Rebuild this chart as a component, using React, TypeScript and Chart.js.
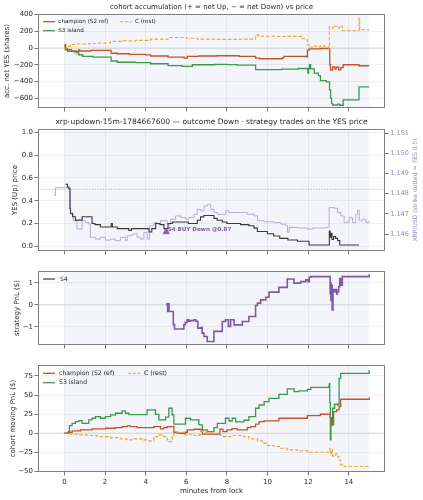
import React, { useEffect, useRef } from "react";
import { Chart, registerables } from "chart.js";

Chart.register(...registerables);

type Pt = [number, number];

// ---------------- data ----------------
const X_MIN = -1.3;
const X_MAX = 15.78;
const X_TICKS = [0, 2, 4, 6, 8, 10, 12, 14];
const SHADE_FROM = 0;
const SHADE_TO = 15;

// panel 1: cohort accumulation (net YES shares)
const ACC_TICKS = [400, 200, 0, -200, -400, -600];
const ACC_CHAMPION: Pt[] = [[0,0],[0.03,40],[0.06,-5],[0.15,-20],[0.35,-35],[0.6,-40],[0.7,-22],[0.75,-35],[1.3,-28],[2.3,-62],[2.6,-68],[3.2,-75],[4.0,-82],[4.24,-95],[5.1,-108],[5.9,-120],[6.05,-100],[6.6,-95],[7.5,-92],[8.6,-100],[9.41,-120],[9.6,-128],[10.73,-118],[10.8,-100],[11.9,-105],[11.96,-25],[12.05,-10],[12.6,-5],[13.03,-8],[13.06,-200],[13.1,-265],[13.2,-225],[13.3,-250],[13.38,-230],[13.5,-262],[13.6,-235],[13.72,-200],[14.5,-212],[15.0,-212]];
const ACC_S3: Pt[] = [[0,0],[0.05,-20],[0.15,-40],[0.45,-45],[0.6,-58],[0.7,-80],[0.9,-100],[1.4,-108],[2.3,-155],[2.6,-170],[3.5,-175],[4.24,-188],[5.1,-210],[5.8,-220],[6.3,-200],[7.4,-195],[8.0,-198],[8.5,-205],[9.41,-258],[10.7,-252],[11.5,-245],[11.98,-300],[12.02,-245],[12.06,-200],[12.12,-250],[12.3,-300],[12.5,-330],[12.6,-390],[12.9,-405],[13.05,-500],[13.1,-600],[13.15,-665],[13.2,-682],[13.45,-672],[13.55,-685],[13.72,-620],[14.5,-465],[15.0,-465]];
const ACC_C_REST: Pt[] = [[0,0],[0.1,20],[0.3,42],[0.5,48],[1.2,55],[1.7,60],[2.27,80],[2.9,86],[3.5,92],[4.24,107],[5.1,127],[6.0,118],[6.55,107],[7.5,104],[8.5,107],[9.41,158],[9.55,142],[10.5,138],[11.0,140],[11.71,112],[11.9,100],[11.96,40],[12.05,10],[12.2,25],[12.4,15],[12.6,28],[12.8,18],[13.0,-2],[13.04,255],[13.2,238],[13.3,262],[13.45,242],[13.55,268],[13.68,207],[14.5,360],[14.53,220],[15.0,220]];

// panel 2: YES price & XRP/USD
const YES_TICKS = [0, 0.2, 0.4, 0.6, 0.8, 1.0];
const XRP_TICKS = [1.146, 1.147, 1.148, 1.149, 1.15, 1.151];
const STRIKE_YES = 0.5;
const YES_PRICE: Pt[] = [[0.05,0.545],[0.15,0.52],[0.22,0.51],[0.27,0.33],[0.3,0.29],[0.4,0.26],[0.54,0.23],[0.87,0.26],[1.36,0.2],[1.5,0.19],[1.77,0.17],[2.3,0.2],[2.36,0.17],[2.6,0.155],[3.17,0.14],[3.3,0.155],[4.16,0.126],[4.3,0.155],[4.49,0.2],[4.7,0.19],[4.9,0.155],[5.1,0.2],[5.31,0.214],[6.1,0.2],[6.54,0.229],[6.7,0.258],[6.86,0.27],[7.36,0.245],[7.52,0.229],[7.77,0.214],[8.0,0.2],[8.67,0.19],[9.08,0.18],[9.33,0.16],[9.5,0.13],[9.99,0.11],[10.3,0.09],[10.6,0.07],[11.0,0.055],[11.47,0.045],[12.04,0.012],[13.02,0.012],[13.04,0.135],[13.08,0.08],[13.12,0.115],[13.17,0.06],[13.25,0.085],[13.35,0.07],[13.45,0.05],[13.55,0.012],[14.5,0.012]];
const XRP_PRICE: Pt[] = [[-0.53,1.14792],[-0.44,1.1483],[0.13,1.1483],[0.21,1.14821],[0.3,1.14698],[0.43,1.14666],[0.62,1.14625],[0.87,1.14666],[1.04,1.14657],[1.2,1.14649],[1.28,1.14584],[1.53,1.14575],[1.77,1.14584],[2.02,1.1457],[2.27,1.14575],[2.51,1.14567],[2.76,1.14584],[3.01,1.14567],[3.09,1.14592],[3.34,1.146],[3.58,1.14584],[3.75,1.14575],[3.91,1.14608],[4.07,1.14575],[4.19,1.14641],[4.4,1.14657],[4.57,1.14649],[4.73,1.14666],[5.06,1.14649],[5.23,1.14674],[5.47,1.1469],[5.72,1.14682],[5.96,1.14674],[6.13,1.14682],[6.38,1.14698],[6.54,1.14723],[6.7,1.14715],[6.87,1.14739],[7.03,1.14748],[7.2,1.14723],[7.36,1.14707],[7.53,1.14698],[7.77,1.14698],[7.94,1.14715],[8.1,1.14707],[8.84,1.14707],[9.0,1.14698],[9.33,1.1469],[9.5,1.14666],[9.83,1.14661],[10.32,1.14657],[10.65,1.14649],[10.89,1.14641],[10.98,1.14608],[11.06,1.14633],[11.47,1.1463],[11.96,1.14625],[12.21,1.1463],[12.87,1.14633],[13.03,1.14731],[13.28,1.14728],[13.44,1.14707],[13.6,1.1469],[13.77,1.14657],[13.93,1.14661],[14.02,1.14682],[14.18,1.14657],[14.34,1.14698],[14.43,1.14718],[14.51,1.14666],[14.67,1.14674],[14.84,1.14657],[15.0,1.14666]];
const TRADE_X = 5.01;
const TRADE_YES = 0.126;
const TRADE_TEXT = "S4 BUY Down @0.87";

// panel 3: strategy PnL
const S4_TICKS = [1, 0, -1];
const S4_PNL: Pt[] = [[5.03,0.0],[5.05,0.05],[5.08,-0.3],[5.12,0.05],[5.15,-0.3],[5.36,-0.9],[5.42,-1.1],[5.88,-0.9],[5.95,-0.8],[6.04,-0.68],[6.12,-0.75],[6.2,-0.72],[6.37,-0.68],[6.47,-0.75],[6.57,-1.06],[6.7,-1.03],[6.78,-1.29],[6.87,-1.44],[7.03,-1.67],[7.36,-1.21],[7.77,-0.76],[7.93,-0.68],[8.07,-0.98],[8.18,-0.68],[8.35,-0.91],[8.76,-0.76],[9.08,-0.53],[9.41,-0.03],[9.5,0.08],[9.66,0.23],[9.91,0.35],[10.07,0.58],[10.56,0.8],[10.97,1.18],[11.3,0.99],[11.63,1.06],[11.88,1.14],[12.0,1.06],[12.05,1.26],[12.13,1.29],[13.05,1.29],[13.08,0.5],[13.1,1.0],[13.12,0.2],[13.15,0.9],[13.18,-0.23],[13.22,0.7],[13.3,0.6],[13.35,0.7],[13.4,0.5],[13.44,0.61],[13.5,0.83],[13.55,1.2],[13.6,0.9],[13.68,1.29],[14.98,1.29],[15.0,1.4]];

// panel 4: cohort moving PnL
const PNL_TICKS = [75, 50, 25, 0, -25, -50];
const PNL_CHAMPION: Pt[] = [[0,0],[0.2,1.3],[0.38,3],[0.79,4.4],[1.36,5.7],[2.02,6.5],[2.51,7.4],[2.84,8.7],[3.09,9.6],[3.25,8.7],[3.58,7.4],[4.4,8.7],[4.73,5.7],[4.9,7.4],[5.06,8.7],[5.39,1.3],[5.55,0],[5.96,1.3],[6.05,4.4],[6.38,5.2],[6.7,4.4],[6.79,-1.3],[7.6,-1.3],[7.65,5.5],[7.8,2.2],[8.0,4.4],[8.25,6],[8.51,4.4],[9.0,7.4],[9.17,8.7],[9.41,11.8],[9.58,15.3],[9.83,16.1],[10.56,19.6],[11.96,23],[12.6,24.9],[13.03,24.9],[13.08,20.5],[13.15,10.9],[13.25,28.4],[13.4,30.5],[13.52,34.9],[13.6,44.5],[14.97,44.5],[15.0,46.7]];
const PNL_S3: Pt[] = [[0,0],[0.2,2],[0.25,10],[0.38,13],[0.54,15.3],[0.71,16.6],[0.87,13],[1.2,17.5],[1.36,19.6],[1.53,21.8],[1.77,19.6],[2.02,21.8],[2.27,24],[2.51,26.2],[2.84,29.2],[3.01,26.2],[3.17,24.5],[4.07,30.5],[4.48,24.8],[4.65,17.4],[4.98,21],[5.14,32.7],[5.3,24],[5.39,11.8],[5.96,19.6],[6.21,17.4],[6.62,10.9],[6.79,4.4],[7.03,2.2],[7.36,7.4],[7.53,13],[7.93,19.6],[8.1,16],[8.26,19.6],[8.43,15],[8.84,17],[9.08,21.8],[9.41,32.7],[9.58,37],[9.83,41.4],[10.07,45.8],[10.56,51],[10.97,58],[11.3,54.5],[11.55,55.5],[11.96,57.5],[12.13,60.2],[13.02,62],[13.04,65],[13.06,40],[13.09,-8.7],[13.12,10.9],[13.2,32.7],[13.3,38],[13.45,37],[13.52,72],[13.6,78.5],[14.97,78.5],[15.0,83]];
const PNL_C_REST: Pt[] = [[0,0],[0.3,-1.3],[0.62,-2.2],[1.12,-3],[1.61,-4.4],[2.27,-5.7],[2.76,-7.4],[3.09,-8.7],[3.42,-7.4],[3.91,-8.7],[4.16,-10],[4.4,-4.4],[4.65,-2.2],[4.9,-4.4],[5.06,-8.7],[5.14,-11],[5.31,-4.4],[5.39,0],[5.55,1.3],[5.88,-2.2],[6.13,-1.3],[6.38,-3],[6.62,-2.2],[6.7,2.2],[6.95,1.3],[7.28,0],[7.66,-3],[7.83,-4.4],[8.18,-3],[8.84,-4.4],[9.08,-7.4],[9.5,-10],[9.74,-13],[9.99,-16],[10.32,-17.4],[10.65,-19.6],[10.97,-21.8],[11.47,-23],[11.96,-24.9],[13.03,-24.9],[13.06,-19.6],[13.1,-28],[13.15,-21],[13.2,-30],[13.35,-27],[13.45,-31],[13.52,-35],[13.6,-41.4],[13.77,-43.6],[14.97,-43.6],[15.0,-45]];

// ---------------- styles ----------------
const FONT = "DejaVu Sans";
const TEXT = "#262626";
const GRID = "rgba(0,0,0,0.07)";
const TICK = "#555555";
const FRAME = "#808080";
const SHADE = "#f3f5fa";
const C_CHAMP = "#c4532d";
const C_S3 = "#3d9a4b";
const C_REST = "#e6ab2a";
const C_S4 = "#7e59a8";
const C_XRP = "#bbaad8";
const C_YES = "#3a3a3a";
const C_RIGHT = "#9a84c4";

const fmtSigned = (v: number) => (v < 0 ? "\u2212" + Math.abs(v) : String(v));

function toXY(p: Pt[]) {
  return p.map(([x, y]) => ({ x, y }));
}

function lineDs(label: string, pts: Pt[], color: string, width: number, dash: number[] = [], yAxisID = "y") {
  return {
    label,
    data: toXY(pts),
    borderColor: color,
    backgroundColor: color,
    borderWidth: width,
    borderDash: dash,
    pointRadius: 0,
    pointHoverRadius: 0,
    stepped: true,
    fill: false,
    tension: 0,
    yAxisID,
  };
}

function xScale(showLabels: boolean, height: number) {
  return {
    type: "linear",
    min: X_MIN,
    max: X_MAX,
    afterBuildTicks: (s: any) => {
      s.ticks = X_TICKS.map((v) => ({ value: v }));
    },
    afterFit: (s: any) => {
      s.height = height;
    },
    ticks: {
      display: showLabels,
      font: { family: FONT, size: 7 },
      color: TEXT,
      padding: 2.5,
      maxRotation: 0,
      autoSkip: false,
      callback: (v: any) => String(v),
    },
    grid: { color: GRID, lineWidth: 0.8, tickColor: TICK, tickLength: 3.5, tickWidth: 0.8 },
    border: { display: false },
  };
}

function yScale(min: number, max: number, ticks: number[], fmt: (v: number) => string, extra: any = {}) {
  return {
    type: "linear",
    position: "left",
    min,
    max,
    afterBuildTicks: (s: any) => {
      s.ticks = ticks.map((v) => ({ value: v }));
    },
    afterFit: (s: any) => {
      s.width = 38;
    },
    ticks: {
      font: { family: FONT, size: 7 },
      color: TEXT,
      padding: 1.5,
      autoSkip: false,
      callback: (v: any) => fmt(Number(v)),
    },
    grid: { color: GRID, lineWidth: 0.8, tickColor: TICK, tickLength: 3.5, tickWidth: 0.8 },
    border: { display: false },
    ...extra,
  };
}

type LegendItem = { label: string; color: string; dash: number[]; width: number; x0: number; x1: number; tx: number; dy: number };

type DecorCfg = {
  title?: { text: string; y: number; size: number };
  yLabel: { text: string; x: number; size: number };
  yLabelRight?: { text: string; x: number; size: number; color: string };
  xLabel?: { text: string; y: number; size: number };
  hlines?: { value: number; scale: string; color: string; dash: number[]; width: number }[];
  legend?: { items: LegendItem[]; size: number };
  note?: { text: string; x: number; y: number; color: string; size: number };
};

function decorPlugin(d: DecorCfg) {
  return {
    id: "decor",
    beforeDraw(chart: any) {
      const { ctx, chartArea: a, scales } = chart;
      const xs = scales.x;
      const l = Math.max(a.left, xs.getPixelForValue(SHADE_FROM));
      const r = Math.min(a.right, xs.getPixelForValue(SHADE_TO));
      ctx.save();
      ctx.fillStyle = SHADE;
      ctx.fillRect(l, a.top, r - l, a.bottom - a.top);
      ctx.restore();
    },
    beforeDatasetsDraw(chart: any) {
      const { ctx, chartArea: a, scales } = chart;
      (d.hlines || []).forEach((h) => {
        const y = scales[h.scale].getPixelForValue(h.value);
        ctx.save();
        ctx.strokeStyle = h.color;
        ctx.lineWidth = h.width;
        ctx.setLineDash(h.dash);
        ctx.beginPath();
        ctx.moveTo(a.left, y);
        ctx.lineTo(a.right, y);
        ctx.stroke();
        ctx.restore();
      });
    },
    afterDraw(chart: any) {
      const { ctx, chartArea: a, scales } = chart;
      ctx.save();
      // frame
      ctx.strokeStyle = FRAME;
      ctx.lineWidth = 1;
      ctx.strokeRect(Math.round(a.left) + 0.5, Math.round(a.top) + 0.5, Math.round(a.right - a.left) - 1, Math.round(a.bottom - a.top) - 1);
      const cx = (a.left + a.right) / 2;
      const cy = (a.top + a.bottom) / 2;
      ctx.fillStyle = TEXT;
      if (d.title) {
        ctx.font = `${d.title.size}px "${FONT}"`;
        ctx.textAlign = "center";
        ctx.textBaseline = "middle";
        ctx.fillText(d.title.text, cx, d.title.y);
      }
      if (d.xLabel) {
        ctx.font = `${d.xLabel.size}px "${FONT}"`;
        ctx.textAlign = "center";
        ctx.textBaseline = "middle";
        ctx.fillText(d.xLabel.text, cx, d.xLabel.y);
      }
      const vLabel = (text: string, x: number, size: number, color: string) => {
        ctx.save();
        ctx.translate(x, cy);
        ctx.rotate(-Math.PI / 2);
        ctx.font = `${size}px "${FONT}"`;
        ctx.fillStyle = color;
        ctx.textAlign = "center";
        ctx.textBaseline = "middle";
        ctx.fillText(text, 0, 0);
        ctx.restore();
      };
      vLabel(d.yLabel.text, d.yLabel.x, d.yLabel.size, TEXT);
      if (d.yLabelRight) vLabel(d.yLabelRight.text, d.yLabelRight.x, d.yLabelRight.size, d.yLabelRight.color);
      if (d.legend) {
        d.legend.items.forEach((it) => {
          const y = a.top + it.dy;
          ctx.save();
          ctx.strokeStyle = it.color;
          ctx.lineWidth = it.width;
          ctx.setLineDash(it.dash);
          ctx.beginPath();
          ctx.moveTo(a.left + it.x0, y);
          ctx.lineTo(a.left + it.x1, y);
          ctx.stroke();
          ctx.restore();
          ctx.font = `${d.legend!.size}px "${FONT}"`;
          ctx.fillStyle = TEXT;
          ctx.textAlign = "left";
          ctx.textBaseline = "middle";
          ctx.fillText(it.label, a.left + it.tx, y);
        });
      }
      if (d.note) {
        const px = scales.x.getPixelForValue(d.note.x);
        const py = scales.y.getPixelForValue(d.note.y);
        ctx.font = `bold ${d.note.size}px "${FONT}"`;
        ctx.fillStyle = d.note.color;
        ctx.textAlign = "left";
        ctx.textBaseline = "alphabetic";
        ctx.fillText(d.note.text, px + 1.5, py - 1);
      }
      ctx.restore();
    },
  };
}

function baseOptions(padTop: number, scales: any) {
  return {
    responsive: false,
    maintainAspectRatio: false,
    animation: false,
    devicePixelRatio: 1,
    events: [],
    layout: { padding: { top: padTop, left: 0, right: 38, bottom: 0 } },
    plugins: { legend: { display: false }, tooltip: { enabled: false }, title: { display: false } },
    scales,
  };
}

function cfgAccumulation() {
  return {
    type: "line",
    data: {
      datasets: [
        lineDs("C (rest)", ACC_C_REST, C_REST, 1.1, [3.5, 2]),
        lineDs("S3 island", ACC_S3, C_S3, 1.3),
        lineDs("champion (S2 ref)", ACC_CHAMPION, C_CHAMP, 1.3),
      ],
    },
    options: baseOptions(14, {
      x: xScale(false, 8),
      y: yScale(-718, 408, ACC_TICKS, fmtSigned),
    }),
    plugins: [
      decorPlugin({
        title: { text: "cohort accumulation (+ = net Up, \u2212 = net Down) vs price", y: 6.7, size: 7 },
        yLabel: { text: "acc. net YES (shares)", x: 6.7, size: 7 },
        hlines: [{ value: 0, scale: "y", color: "#cfcfcf", dash: [], width: 0.8 }],
        legend: {
          size: 5.6,
          items: [
            { label: "champion (S2 ref)", color: C_CHAMP, dash: [], width: 1.3, x0: 5, x1: 17, tx: 20.3, dy: 7.7 },
            { label: "S3 island", color: C_S3, dash: [], width: 1.3, x0: 5, x1: 17, tx: 20.3, dy: 16.7 },
            { label: "C (rest)", color: C_REST, dash: [3, 1.8], width: 1.1, x0: 82, x1: 93.7, tx: 97, dy: 7.7 },
          ],
        },
      }),
    ],
  };
}

function cfgPrice() {
  return {
    type: "line",
    data: {
      datasets: [
        {
          label: "trade",
          data: [{ x: TRADE_X, y: TRADE_YES }],
          showLine: false,
          pointStyle: "triangle",
          pointRadius: 3.8,
          pointBackgroundColor: C_S4,
          pointBorderColor: C_S4,
          pointBorderWidth: 0.5,
          yAxisID: "y",
        },
        lineDs("YES", YES_PRICE, C_YES, 1.1),
        lineDs("XRP/USD", XRP_PRICE, C_XRP, 1.0, [], "y1"),
      ],
    },
    options: {
      ...baseOptions(13, {
        x: xScale(false, 8),
        y: yScale(-0.041, 1.029, YES_TICKS, (v) => v.toFixed(1)),
        y1: {
          type: "linear",
          position: "right",
          min: 1.14516,
          max: 1.15121,
          afterBuildTicks: (s: any) => {
            s.ticks = XRP_TICKS.map((v) => ({ value: v }));
          },
          afterFit: (s: any) => {
            s.width = 38;
          },
          ticks: {
            font: { family: FONT, size: 6.4 },
            color: C_RIGHT,
            padding: 2,
            autoSkip: false,
            callback: (v: any) => Number(v).toFixed(3),
          },
          grid: { drawOnChartArea: false, tickColor: TICK, tickLength: 3.5, tickWidth: 0.8 },
          border: { display: false },
        },
      }),
      layout: { padding: { top: 13, left: 0, right: 0, bottom: 0 } },
    },
    plugins: [
      decorPlugin({
        title: { text: "xrp-updown-15m-1784667600 \u2014 outcome Down \u00b7 strategy trades on the YES price", y: 6.3, size: 7.5 },
        yLabel: { text: "YES (Up) price", x: 15, size: 7 },
        yLabelRight: { text: "XRP/USD (strike dotted = YES 0.5)", x: 415.5, size: 6, color: C_RIGHT },
        hlines: [{ value: STRIKE_YES, scale: "y", color: "#b5b5b5", dash: [1.2, 1.5], width: 0.9 }],
        note: { text: TRADE_TEXT, x: TRADE_X, y: TRADE_YES, color: C_S4, size: 5.6 },
      }),
    ],
  };
}

function cfgStrategy() {
  return {
    type: "line",
    data: { datasets: [lineDs("S4", S4_PNL, C_S4, 1.6)] },
    options: baseOptions(12, {
      x: xScale(false, 8),
      y: yScale(-1.83, 1.545, S4_TICKS, fmtSigned),
    }),
    plugins: [
      decorPlugin({
        yLabel: { text: "strategy PnL ($)", x: 16.7, size: 7 },
        hlines: [{ value: 0, scale: "y", color: "#cfcfcf", dash: [], width: 0.8 }],
        legend: {
          size: 6,
          items: [{ label: "S4", color: C_S4, dash: [], width: 1.6, x0: 5, x1: 17, tx: 22, dy: 8 }],
        },
      }),
    ],
  };
}

function cfgCohortPnl() {
  return {
    type: "line",
    data: {
      datasets: [
        lineDs("C (rest)", PNL_C_REST, C_REST, 1.1, [3.5, 2]),
        lineDs("champion (S2 ref)", PNL_CHAMPION, C_CHAMP, 1.3),
        lineDs("S3 island", PNL_S3, C_S3, 1.3),
      ],
    },
    options: baseOptions(12, {
      x: xScale(true, 28),
      y: yScale(-50.8, 89.4, PNL_TICKS, fmtSigned),
    }),
    plugins: [
      decorPlugin({
        yLabel: { text: "cohort moving PnL ($)", x: 13.3, size: 7 },
        xLabel: { text: "minutes from lock", y: 138, size: 7 },
        hlines: [{ value: 0, scale: "y", color: "#cfcfcf", dash: [], width: 0.8 }],
        legend: {
          size: 6.2,
          items: [
            { label: "champion (S2 ref)", color: C_CHAMP, dash: [], width: 1.3, x0: 5, x1: 17, tx: 21, dy: 8.3 },
            { label: "S3 island", color: C_S3, dash: [], width: 1.3, x0: 5, x1: 17, tx: 21, dy: 17.7 },
            { label: "C (rest)", color: C_REST, dash: [3, 1.8], width: 1.1, x0: 90, x1: 102, tx: 106, dy: 8.3 },
          ],
        },
      }),
    ],
  };
}

function Panel({ top, height, build }: { top: number; height: number; build: () => any }) {
  const ref = useRef<HTMLCanvasElement>(null);
  useEffect(() => {
    const chart = new Chart(ref.current as HTMLCanvasElement, build());
    return () => chart.destroy();
  }, []);
  return (
    <canvas
      ref={ref}
      width={423}
      height={height}
      style={{ position: "absolute", left: 0, top, width: 423, height, display: "block" }}
    />
  );
}

export default function App() {
  return (
    <div style={{ position: "fixed", left: 0, top: 0, width: 423, height: 500, background: "#ffffff", overflow: "hidden" }}>
      <Panel top={0} height={116} build={cfgAccumulation} />
      <Panel top={116} height={143} build={cfgPrice} />
      <Panel top={259} height={94} build={cfgStrategy} />
      <Panel top={353} height={147} build={cfgCohortPnl} />
    </div>
  );
}
